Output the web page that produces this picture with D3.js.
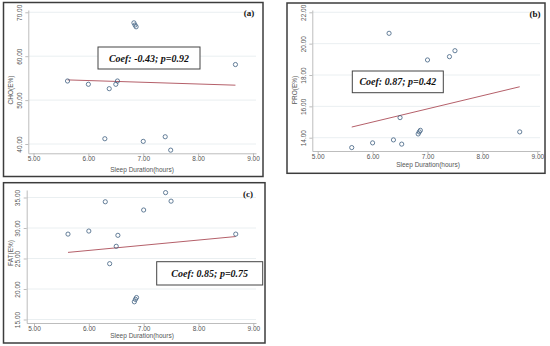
<!DOCTYPE html>
<html><head><meta charset="utf-8">
<script src="https://cdn.jsdelivr.net/npm/d3@7"></script>
<style>body{margin:0;background:#fff}svg{display:block}</style>
</head><body>
<svg id="chart" width="550" height="346"></svg>
<script>
// ---------- data ----------
const sleepHours = [5.62, 6.00, 6.30, 6.38, 6.50, 6.53, 6.83, 6.85, 6.87, 7.00, 7.40, 7.50, 8.68];
const choValues  = [54.35, 53.6, 41.2, 52.6, 53.6, 54.35, 67.6, 67.1, 66.7, 40.6, 41.65, 38.6, 58.1];
const proValues  = [13.37, 13.67, 20.66, 13.86, 15.28, 13.59, 14.24, 14.37, 14.47, 18.96, 19.17, 19.55, 14.37];
const fatValues  = [29.0, 29.5, 34.3, 24.15, 27.0, 28.8, 17.9, 18.3, 18.6, 32.95, 35.8, 34.4, 29.0];
const fitX   = [5.62, 8.68];
const choFit = [54.6, 53.4];
const proFit = [14.68, 17.25];
const fatFit = [26.0, 28.6];
const xTicks   = [5, 6, 7, 8, 9];
const choTicks = [40, 50, 60, 70];
const proTicks = [14, 16, 18, 20, 22];
const fatTicks = [15, 20, 25, 30, 35];
const xLabel = "Sleep Duration(hours)";
const panels = [
  {id:"(a)", ylab:"CHO(E%)", ys:choValues, fit:choFit, yt:choTicks, coef:"Coef: -0.43; p=0.92"},
  {id:"(b)", ylab:"PRO(E%)", ys:proValues, fit:proFit, yt:proTicks, coef:"Coef: 0.87; p=0.42"},
  {id:"(c)", ylab:"FAT(E%)", ys:fatValues, fit:fatFit, yt:fatTicks, coef:"Coef: 0.85; p=0.75"}
];

// ---------- layout ----------
const layout = [
  {frame:[3.5,2.5,263,176.5], xr:[33.5,253], xa:[28.3,256], axY:153.3, yr:[144,12.3], ya:[10,153.3], axX:28.3,
   ylx:11, yly:90, xlx:142, xly:170, xtly:159.5, box:[98,47,102,22], lab:[249,13]},
  {frame:[287,3,545,173.3], xr:[317.7,537.3], xa:[312.3,540], axY:151, yr:[137.7,12.3], ya:[10,151], axX:312.3,
   ylx:295, yly:90, xlx:428, xly:165.5, xtly:157, box:[352.3,71,91,21.7], lab:[535,14]},
  {frame:[3.5,182.7,265,343], xr:[34,253.3], xa:[26.7,256], axY:323, yr:[319.5,197.5], ya:[190,323], axX:26.7,
   ylx:11, yly:253, xlx:142, xly:336.5, xtly:329.5, box:[156.7,261.7,106,23.3], lab:[248,194]}
];

const svg = d3.select("#chart");
const sansFont = "'Liberation Sans', Arial, sans-serif";
const serifFont = "'Liberation Serif', 'Times New Roman', serif";

panels.forEach((p, i) => {
  const L = layout[i];
  const g = svg.append("g");
  const yt = p.yt;
  const x = d3.scaleLinear().domain([xTicks[0], xTicks[xTicks.length-1]]).range(L.xr);
  const y = d3.scaleLinear().domain([yt[0], yt[yt.length-1]]).range(L.yr);

  g.append("rect").attr("x", L.frame[0]).attr("y", L.frame[1])
    .attr("width", L.frame[2]-L.frame[0]).attr("height", L.frame[3]-L.frame[1])
    .attr("fill", "#fff").attr("stroke", "#3c3c3c").attr("stroke-width", 1.5);

  g.selectAll(".grid").data(yt).join("line")
    .attr("x1", L.axX).attr("x2", L.xa[1])
    .attr("y1", d => y(d)).attr("y2", d => y(d))
    .attr("stroke", "#e4ebee").attr("stroke-width", 0.8);

  const xAx = d3.scaleLinear().domain([x.invert(L.xa[0]), x.invert(L.xa[1])]).range(L.xa);
  const yAx = d3.scaleLinear().domain([y.invert(L.ya[1]), y.invert(L.ya[0])]).range([L.ya[1], L.ya[0]]);
  const gx = g.append("g").attr("transform", `translate(0,${L.axY})`)
    .call(d3.axisBottom(xAx).tickValues(xTicks).tickSize(3).tickSizeOuter(0).tickFormat(d3.format(".2f")));
  const gy = g.append("g").attr("transform", `translate(${L.axX},0)`)
    .call(d3.axisLeft(yAx).tickValues(yt).tickSize(3).tickSizeOuter(0).tickFormat(d3.format(".2f")));
  [gx, gy].forEach(a => {
    a.select(".domain").attr("stroke", "#b5b5b5").attr("stroke-width", 0.9);
    a.selectAll(".tick line").attr("stroke", "#b5b5b5").attr("stroke-width", 0.9);
    a.selectAll("text").attr("fill", "#555").style("font-family", sansFont).style("font-size", "6.5px");
  });
  gx.selectAll("text").attr("dy", null).attr("transform", null)
    .attr("y", L.xtly - L.axY).attr("dominant-baseline", "middle");
  gy.selectAll("text").attr("dy", null)
    .attr("text-anchor", "middle").attr("dominant-baseline", "middle")
    .attr("transform", `translate(-8,0) rotate(-90)`).attr("x", 0).attr("y", 0);

  g.append("text").attr("x", L.xlx).attr("y", L.xly).attr("text-anchor", "middle")
    .attr("dominant-baseline", "middle").attr("fill", "#555")
    .style("font-family", sansFont).style("font-size", "6.5px").text(xLabel);
  g.append("text").attr("transform", `translate(${L.ylx},${L.yly}) rotate(-90)`)
    .attr("text-anchor", "middle").attr("dominant-baseline", "middle").attr("fill", "#555")
    .style("font-family", sansFont).style("font-size", "6.5px").text(p.ylab);

  g.append("line").attr("x1", x(fitX[0])).attr("x2", x(fitX[1]))
    .attr("y1", y(p.fit[0])).attr("y2", y(p.fit[1]))
    .attr("stroke", "#b5606a").attr("stroke-width", 1);

  g.selectAll(".pt").data(sleepHours.map((h, k) => [h, p.ys[k]])).join("circle")
    .attr("cx", d => x(d[0])).attr("cy", d => y(d[1])).attr("r", 2.1)
    .attr("fill", "none").attr("stroke", "#3f5f80").attr("stroke-width", 0.8);

  const b = L.box;
  g.append("rect").attr("x", b[0]).attr("y", b[1]).attr("width", b[2]).attr("height", b[3])
    .attr("fill", "#fff").attr("stroke", "#444").attr("stroke-width", 1);
  g.append("text").attr("x", b[0] + b[2]/2).attr("y", b[1] + b[3]/2)
    .attr("text-anchor", "middle").attr("dominant-baseline", "central").attr("fill", "#111")
    .style("font-family", serifFont).style("font-size", "10px").style("font-weight", "bold")
    .style("font-style", "italic").text(p.coef);

  g.append("text").attr("x", L.lab[0]).attr("y", L.lab[1]).attr("text-anchor", "middle")
    .attr("dominant-baseline", "central").attr("fill", "#111")
    .style("font-family", serifFont).style("font-size", "9px").style("font-weight", "bold").text(p.id);
});
</script>
</body></html>
